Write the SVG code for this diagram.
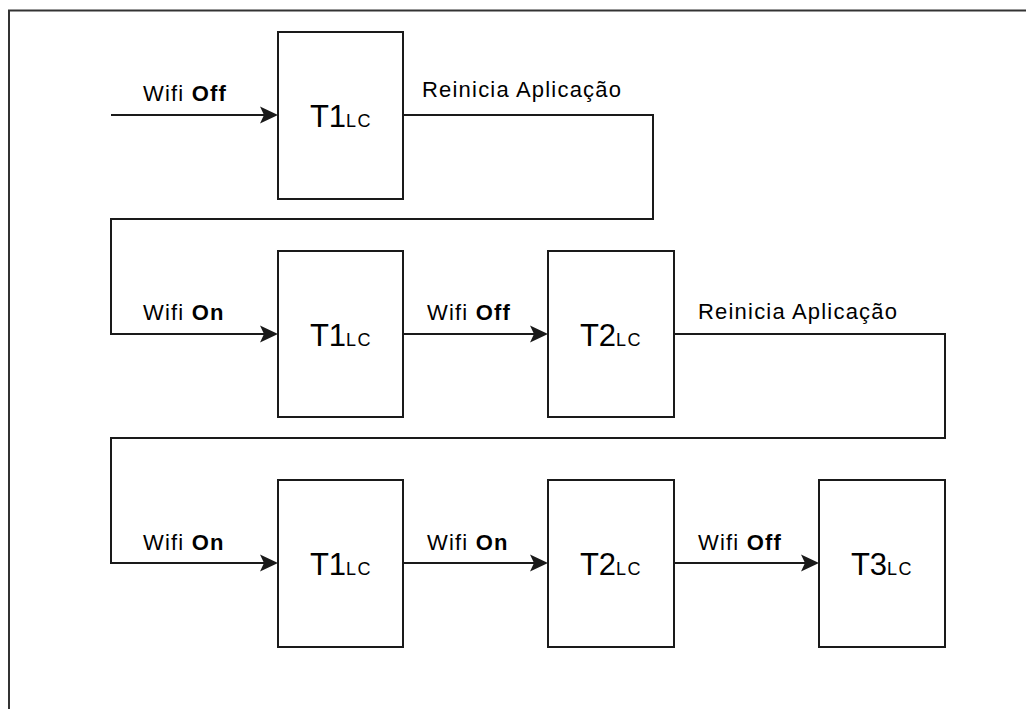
<svg xmlns="http://www.w3.org/2000/svg" width="1026" height="709" viewBox="0 0 1026 709">
<style>
.frame{fill:none;stroke:#333;stroke-width:2}
.box{fill:#fff;stroke:#1a1a1a;stroke-width:2}
.conn{fill:none;stroke:#1a1a1a;stroke-width:2}
.lbl{font-family:"Liberation Sans",Arial,sans-serif;font-size:22px;letter-spacing:1.2px;fill:#000}
.lbl .b{font-weight:bold}
.nt{font-family:"Liberation Sans",Arial,sans-serif;font-size:31px;fill:#000;text-anchor:middle}
.nt .sub{font-size:18px;letter-spacing:1.5px}
</style>
<defs>
<marker id="arr" markerUnits="userSpaceOnUse" markerWidth="20" markerHeight="20" viewBox="-19 -10 20 20" refX="-8" refY="0" orient="auto">
<path d="M0,0 L-18,-8.5 L-14,0 L-18,8.5 Z" fill="#1a1a1a"/>
</marker>
</defs>
<rect width="1026" height="709" fill="#fff"/>
<path class="frame" d="M9,709 V10.5 H1026"/>
<g id="connectors">
<path class="conn" d="M111,115 H270" marker-end="url(#arr)"/>
<path class="conn" d="M403,115 H653 V219 H111 V334 H270" marker-end="url(#arr)"/>
<path class="conn" d="M403,334 H540" marker-end="url(#arr)"/>
<path class="conn" d="M674,334 H945 V438 H111 V563 H270" marker-end="url(#arr)"/>
<path class="conn" d="M403,563 H540" marker-end="url(#arr)"/>
<path class="conn" d="M674,563 H811" marker-end="url(#arr)"/>
</g>
<g id="labels">
<text class="lbl" x="143" y="101">Wifi <tspan class="b">Off</tspan></text>
<text class="lbl" x="422" y="97">Reinicia Aplicação</text>
<text class="lbl" x="143" y="320">Wifi <tspan class="b">On</tspan></text>
<text class="lbl" x="427" y="320">Wifi <tspan class="b">Off</tspan></text>
<text class="lbl" x="698" y="319">Reinicia Aplicação</text>
<text class="lbl" x="143" y="550">Wifi <tspan class="b">On</tspan></text>
<text class="lbl" x="427" y="550">Wifi <tspan class="b">On</tspan></text>
<text class="lbl" x="698" y="550">Wifi <tspan class="b">Off</tspan></text>
</g>
<g id="n1">
<rect class="box" x="278" y="32" width="125" height="167"/>
<text class="nt" x="341" y="127">T1<tspan class="sub">LC</tspan></text>
</g>
<g id="n2">
<rect class="box" x="278" y="251" width="125" height="166"/>
<text class="nt" x="341" y="346">T1<tspan class="sub">LC</tspan></text>
</g>
<g id="n3">
<rect class="box" x="548" y="251" width="126" height="166"/>
<text class="nt" x="611" y="346">T2<tspan class="sub">LC</tspan></text>
</g>
<g id="n4">
<rect class="box" x="278" y="480" width="125" height="167"/>
<text class="nt" x="341" y="575">T1<tspan class="sub">LC</tspan></text>
</g>
<g id="n5">
<rect class="box" x="548" y="480" width="126" height="167"/>
<text class="nt" x="611" y="575">T2<tspan class="sub">LC</tspan></text>
</g>
<g id="n6">
<rect class="box" x="819" y="480" width="126" height="167"/>
<text class="nt" x="882" y="575">T3<tspan class="sub">LC</tspan></text>
</g>
</svg>
